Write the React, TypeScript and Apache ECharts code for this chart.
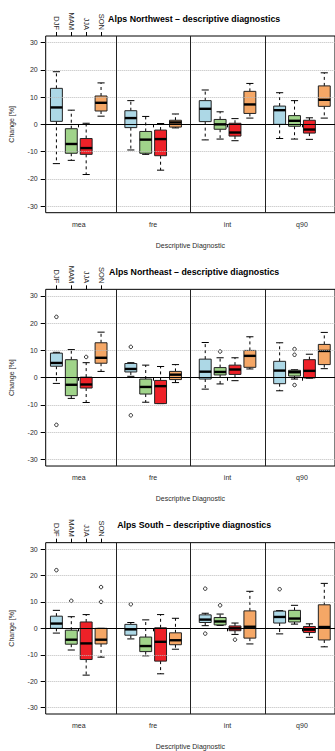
import React, { useEffect, useRef } from 'react';
import * as echarts from 'echarts';

const SEASONS = ['DJF', 'MAM', 'JJA', 'SON'];
const DIAGNOSTICS = ['mea', 'fre', 'int', 'q90'];
const SEASON_COLORS = ['#ADD8E6', '#A0D48A', '#EE2128', '#F5A766'];
const Y_TICKS = [-30, -20, -10, 0, 10, 20, 30];
const GROUP_TICKS = [2.5, 7.5, 12.5, 17.5];
const SEASON_TICKS = [1, 2, 3, 4];
const SEPARATORS = [5, 10, 15];
const REGION_TITLES = [
  'Alps Northwest – descriptive diagnostics',
  'Alps Northeast – descriptive diagnostics',
  'Alps South – descriptive diagnostics',
];

// [min whisker, Q1, median, Q3, max whisker]; order: mea(DJF,MAM,JJA,SON), fre(...), int(...), q90(...)
const NW_BOXES = [
  [-14.4, 1.1, 6.2, 13.2, 19.3], [-13.2, -10.6, -7.2, -1.6, 5.2], [-18.4, -11.0, -8.7, -5.2, 0.4], [3.0, 4.9, 7.9, 10.4, 15.2],
  [-9.4, -1.2, 2.3, 5.0, 8.7], [-11.0, -10.6, -5.6, -2.6, 2.9], [-16.8, -11.5, -5.4, -2.1, 0.3], [-1.3, -1.0, 0.7, 1.5, 3.8],
  [-5.7, 1.0, 5.7, 8.7, 12.6], [-5.4, -1.8, 0.0, 1.8, 4.6], [-6.0, -4.3, -3.0, 0.4, 2.1], [2.3, 4.0, 7.3, 12.1, 15.0],
  [-5.2, 0.0, 5.2, 6.7, 11.6], [-5.4, -0.7, 1.3, 3.2, 8.7], [-5.5, -3.2, -1.9, 1.5, 2.4], [2.3, 6.6, 9.0, 14.1, 18.9],
];
const NW_OUTLIERS: number[][] = []; // [diagnostic, season, value]

const NE_BOXES = [
  [-2.1, 4.2, 5.4, 9.0, 9.3], [-7.6, -6.6, -2.6, 6.6, 10.3], [-9.1, -3.8, -2.5, 0.2, 5.5], [2.3, 5.3, 7.3, 12.8, 16.7],
  [0.5, 2.1, 3.2, 5.2, 5.5], [-9.0, -6.0, -3.4, -0.5, 4.6], [-9.5, -9.5, -3.1, -1.0, 4.1], [-1.8, -0.7, 1.1, 2.3, 4.8],
  [-4.2, -0.5, 2.2, 6.8, 12.9], [-2.3, 1.0, 2.1, 3.7, 7.3], [-1.1, 1.2, 3.0, 4.6, 7.3], [3.2, 3.8, 8.0, 10.0, 15.0],
  [-4.8, -2.2, 2.6, 6.0, 12.8], [-0.5, 0.6, 2.0, 2.7, 2.9], [-0.2, -0.1, 2.5, 6.6, 8.6], [3.3, 4.8, 9.8, 12.2, 16.6],
];
const NE_OUTLIERS = [
  [0, 0, 22.3], [0, 0, -17.3], [0, 2, 7.6],
  [1, 0, 11.3], [1, 0, -13.8],
  [2, 1, 9.6],
  [3, 1, 10.5], [3, 1, 8.4], [3, 1, -2.7],
];

const S_BOXES = [
  [-1.8, 0.0, 1.8, 4.6, 6.8], [-8.2, -6.0, -4.3, -0.7, 4.4], [-17.7, -11.8, -5.7, 2.4, 5.2], [-10.9, -5.9, -4.3, 0.0, 0.0],
  [-4.0, -2.6, -0.4, 1.5, 2.2], [-10.4, -8.8, -6.7, -3.3, 3.2], [-17.2, -12.4, -5.1, 0.2, 5.2], [-7.9, -6.2, -4.5, -1.7, 3.8],
  [1.0, 2.2, 3.3, 5.1, 5.7], [1.1, 1.3, 2.6, 4.1, 5.4], [-2.3, -0.9, 0.0, 0.9, 2.0], [-5.9, -3.7, 0.6, 6.6, 14.0],
  [-2.1, 2.0, 4.3, 6.5, 6.7], [1.6, 2.4, 3.7, 6.8, 8.7], [-3.4, -1.6, -0.5, 0.7, 1.7], [-7.0, -4.4, 0.5, 8.9, 17.0],
];
const S_OUTLIERS = [
  [0, 0, 22.0], [0, 1, 10.4], [0, 3, 15.6], [0, 3, 10.0],
  [1, 0, 9.1],
  [2, 0, 15.0], [2, 0, -2.0], [2, 1, 8.7], [2, 2, -4.3],
  [3, 0, 14.8],
];

const PANELS = [
  { title: REGION_TITLES[0], boxes: NW_BOXES, outliers: NW_OUTLIERS },
  { title: REGION_TITLES[1], boxes: NE_BOXES, outliers: NE_OUTLIERS },
  { title: REGION_TITLES[2], boxes: S_BOXES, outliers: S_OUTLIERS },
];

const FONT = '"Liberation Sans", Arial, Helvetica, sans-serif';
const TEXT_COLOR = '#2b2b2b';
const PANEL_H = 253.33;
const GRID_LEFT = 45.7;
const GRID_TOP = 36;
const GRID_W = 296.9;
const GRID_H = 176.7;
const X_MIN = 0.28;
const X_MAX = 19.72;
const Y_MIN = -32.4;
const Y_MAX = 32.4;

const pos = (d: number, s: number) => d * 5 + s + 1;

function renderBox(params: any, api: any) {
  const x = api.value(0);
  const lo = api.value(1), q1 = api.value(2), med = api.value(3), q3 = api.value(4), hi = api.value(5);
  const s = api.value(6);
  const pLo = api.coord([x, lo]);
  const cx = pLo[0];
  const yLo = pLo[1];
  const yQ1 = api.coord([x, q1])[1];
  const yMed = api.coord([x, med])[1];
  const yQ3 = api.coord([x, q3])[1];
  const yHi = api.coord([x, hi])[1];
  const bw = api.size([0.8, 0])[0];
  const half = bw / 2;
  const cap = bw * 0.3;
  const ln = (x1: number, y1: number, x2: number, y2: number, style: any) => ({
    type: 'line', shape: { x1, y1, x2, y2 }, style,
  });
  const dash = { stroke: '#000', lineWidth: 1, lineDash: [3, 3] };
  const solid = { stroke: '#000', lineWidth: 1 };
  return {
    type: 'group',
    children: [
      ln(cx, yQ3, cx, yHi, dash),
      ln(cx, yQ1, cx, yLo, dash),
      ln(cx - cap, yHi, cx + cap, yHi, solid),
      ln(cx - cap, yLo, cx + cap, yLo, solid),
      {
        type: 'rect',
        shape: { x: cx - half, y: yQ3, width: bw, height: yQ1 - yQ3 },
        style: { fill: SEASON_COLORS[s], stroke: '#222', lineWidth: 1 },
      },
      ln(cx - half, yMed, cx + half, yMed, { stroke: '#000', lineWidth: 2.4 }),
    ],
  };
}

export default function App() {
  const ref = useRef<HTMLDivElement>(null);
  useEffect(() => {
    if (!ref.current) return;
    const chart = echarts.init(ref.current, undefined, { renderer: 'svg' });
    const textStyle = { fontFamily: FONT, fontSize: 7, color: TEXT_COLOR };
    const grids: any[] = [];
    const xAxes: any[] = [];
    const yAxes: any[] = [];
    const series: any[] = [];
    const graphics: any[] = [];
    PANELS.forEach((p, k) => {
      const top = GRID_TOP + k * PANEL_H;
      grids.push({
        left: GRID_LEFT, top, width: GRID_W, height: GRID_H,
        show: true, borderColor: '#000', borderWidth: 1, backgroundColor: 'transparent',
      });
      xAxes.push({
        type: 'value', gridIndex: k, position: 'bottom', min: X_MIN, max: X_MAX,
        axisLine: { show: false }, splitLine: { show: false },
        axisTick: { show: true, customValues: GROUP_TICKS, length: 3, lineStyle: { color: '#000' } },
        axisLabel: {
          customValues: GROUP_TICKS, margin: 8, fontFamily: FONT, fontSize: 7, color: TEXT_COLOR,
          formatter: (v: number) => DIAGNOSTICS[Math.round((v - 2.5) / 5)] || '',
        },
        name: 'Descriptive Diagnostic', nameLocation: 'middle', nameGap: 29,
        nameTextStyle: textStyle,
      });
      xAxes.push({
        type: 'value', gridIndex: k, position: 'top', min: X_MIN, max: X_MAX,
        axisLine: { show: false }, splitLine: { show: false },
        axisTick: { show: true, customValues: SEASON_TICKS, length: 4, lineStyle: { color: '#000' } },
        axisLabel: {
          customValues: SEASON_TICKS, margin: 6, rotate: 90, fontFamily: FONT, fontSize: 7.5, color: TEXT_COLOR,
          formatter: (v: number) => SEASONS[Math.round(v) - 1] || '',
        },
      });
      yAxes.push({
        type: 'value', gridIndex: k, min: Y_MIN, max: Y_MAX,
        axisLine: { show: false }, splitLine: { show: false },
        axisTick: { show: true, customValues: Y_TICKS, length: 5, lineStyle: { color: '#000' } },
        axisLabel: { customValues: Y_TICKS, margin: 8, fontFamily: FONT, fontSize: 7, color: TEXT_COLOR },
        name: 'Change [%]', nameLocation: 'middle', nameGap: 30.5,
        nameTextStyle: textStyle,
      });
      const lineOpts = { symbol: ['none', 'none'], silent: true, label: { show: false }, animation: false };
      series.push({
        type: 'scatter', xAxisIndex: 2 * k, yAxisIndex: k, data: [], z: 1,
        markLine: {
          ...lineOpts,
          data: [
            ...Y_TICKS.filter((v) => v !== 0).map((v) => ({
              yAxis: v, lineStyle: { color: '#bbb', type: 'dotted', width: 1 },
            })),
            ...SEPARATORS.map((v) => ({ xAxis: v, lineStyle: { color: '#222', type: 'solid', width: 1 } })),
          ],
        },
      });
      series.push({
        type: 'custom', xAxisIndex: 2 * k, yAxisIndex: k, z: 2,
        renderItem: renderBox,
        encode: { x: 0, y: [1, 2, 3, 4, 5] },
        data: p.boxes.map((b, i) => [pos(Math.floor(i / 4), i % 4), ...b, i % 4]),
      });
      series.push({
        type: 'scatter', xAxisIndex: 2 * k, yAxisIndex: k, z: 3,
        symbol: 'circle', symbolSize: 3.5,
        itemStyle: { color: 'rgba(0,0,0,0)', borderColor: '#000', borderWidth: 1 },
        data: p.outliers.map((o) => [pos(o[0], o[1]), o[2]]),
        markLine: {
          ...lineOpts,
          data: [{ yAxis: 0, lineStyle: { color: '#000', type: 'solid', width: 1 } }],
        },
      });
      graphics.push({
        type: 'text', x: GRID_LEFT + GRID_W / 2, y: 18.5 + k * PANEL_H,
        style: {
          text: p.title, fontFamily: FONT, fontSize: 8.8, fontWeight: 'bold', fill: '#000',
          align: 'center', verticalAlign: 'middle', textAlign: 'center', textVerticalAlign: 'middle',
        },
      });
    });
    chart.setOption({
      animation: false,
      backgroundColor: '#fff',
      grid: grids,
      xAxis: xAxes,
      yAxis: yAxes,
      series,
      graphic: graphics,
    });
    return () => chart.dispose();
  }, []);
  return (
    <div
      ref={ref}
      style={{ position: 'absolute', left: 0, top: 0, width: 335, height: 751, background: '#fff' }}
    />
  );
}
